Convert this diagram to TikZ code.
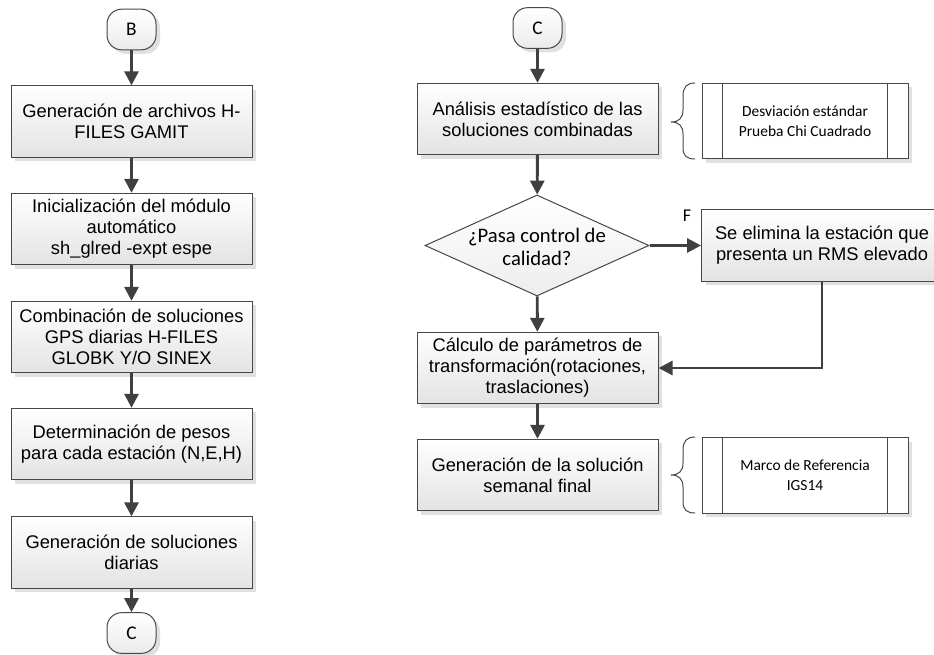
\documentclass[tikz,border=0pt]{standalone}
\usepackage{fontspec}
\setmainfont{Liberation Sans}
\newfontfamily\calib{Carlito}
\usetikzlibrary{arrows.meta,shapes.geometric,shadows}
\tikzset{
  outline/.style={draw=black!72, line width=0.75pt},
  shad/.style={drop shadow={shadow xshift=3pt, shadow yshift=-3pt, fill=black!30, opacity=0.4}},
  proc/.style={outline, shad, rectangle, top color=white, bottom color=black!11,
    minimum width=180.75pt, minimum height=53.5pt, inner sep=2pt, align=center,
    font=\fontsize{13.75pt}{15.8pt}\selectfont},
  term/.style={outline, shad, rectangle, rounded corners=11pt, top color=white, bottom color=black!8,
    minimum width=36.75pt, minimum height=30.5pt, inner sep=0pt,
    font=\calib\fontsize{14.5pt}{16pt}\selectfont},
  predef/.style={outline, shad, rectangle, fill=white, minimum width=154.5pt, minimum height=56.5pt,
    inner sep=0pt, align=center, font=\calib\fontsize{11.6pt}{15pt}\selectfont},
  decision/.style={outline, diamond, top color=white, bottom color=black!7, minimum width=168pt,
    minimum height=75.75pt, inner sep=0pt},
  dtext/.style={align=center, inner sep=0pt, font=\calib\fontsize{15.5pt}{17.3pt}\selectfont},
  lbl/.style={inner sep=0pt, font=\calib\fontsize{13.5pt}{15pt}\selectfont},
  arr/.style={draw=black!75, line width=2.2pt, -{Triangle[width=10.5pt,length=10.5pt]}},
  bracestyle/.style={draw=black!72, line width=0.75pt}
}
\begin{document}
\begin{tikzpicture}[x=0.75pt,y=-0.75pt]
\useasboundingbox (0,0) rectangle (934,655);
\clip (0,0) rectangle (934,655);
\fill[white] (0,0) rectangle (934,655);

% left column
\node[term] (tB) at (131.5,29.5) {B};
\node[proc] (l1) at (131.5,121.5) {Generación de archivos H-\\FILES GAMIT};
\node[proc] (l2) at (131.5,229) {Inicialización del módulo\\automático\\sh\_glred -expt espe};
\node[proc] (l3) at (131.5,337) {Combinación de soluciones\\GPS diarias H-FILES\\GLOBK Y/O SINEX};
\node[proc] (l4) at (131.5,444) {Determinación de pesos\\para cada estación (N,E,H)};
\node[proc] (l5) at (131.5,552.5) {Generación de soluciones\\diarias};
\node[term] (tC) at (131.5,633) {C};

\draw[arr] (tB) -- (l1);
\draw[arr] (l1) -- (l2);
\draw[arr] (l2) -- (l3);
\draw[arr] (l3) -- (l4);
\draw[arr] (l4) -- (l5);
\draw[arr] (l5) -- (tC);

% right column
\node[term] (tC2) at (537.5,28) {C};
\node[proc] (r1) at (537.5,119) {Análisis estadístico de las\\soluciones combinadas};
\node[decision] (d) at (537,245.5) {};
\node[dtext] (dt) at (537,246.5) {¿Pasa control de\\calidad?};
\node[proc] (se) at (822,245.5) {Se elimina la estación que\\presenta un RMS elevado};
\node[proc] (r2) at (537.5,368) {Cálculo de parámetros de\\transformación(rotaciones,\\traslaciones)};
\node[proc] (r3) at (537.5,475) {Generación de la solución\\semanal final};

\node[predef] (p1) at (805,121) {Desviación estándar\\Prueba Chi Cuadrado};
\node[predef] (p2) at (805,475.5) {Marco de Referencia\\IGS14};
\foreach \p in {p1,p2}{
  \draw[outline] ([xshift=15.75pt]\p.north west) -- ([xshift=15.75pt]\p.south west);
  \draw[outline] ([xshift=-15.75pt]\p.north east) -- ([xshift=-15.75pt]\p.south east);
}

\node[lbl] (F) at (687,216) {F};

\draw[arr] (tC2) -- (r1);
\draw[arr] (r1) -- (d);
\draw[arr] (d) -- (se);
\draw[arr] (d) -- (r2);
\draw[arr] (se.south) |- (r2.east);
\draw[arr] (r2) -- (r3);

% braces
\draw[bracestyle] (695,83) .. controls (687,83) and (683,87) .. (683,96) -- (683,110)
  .. controls (683,118) and (679,122) .. (671,122) .. controls (679,122) and (683,126) .. (683,134)
  -- (683,148) .. controls (683,156) and (687,159) .. (695,159);
\draw[bracestyle] (695,437) .. controls (687,437) and (683,441) .. (683,450) -- (683,463)
  .. controls (683,471) and (679,475) .. (671,475) .. controls (679,475) and (683,479) .. (683,487)
  -- (683,502) .. controls (683,510) and (687,513) .. (695,513);
\end{tikzpicture}
\end{document}
